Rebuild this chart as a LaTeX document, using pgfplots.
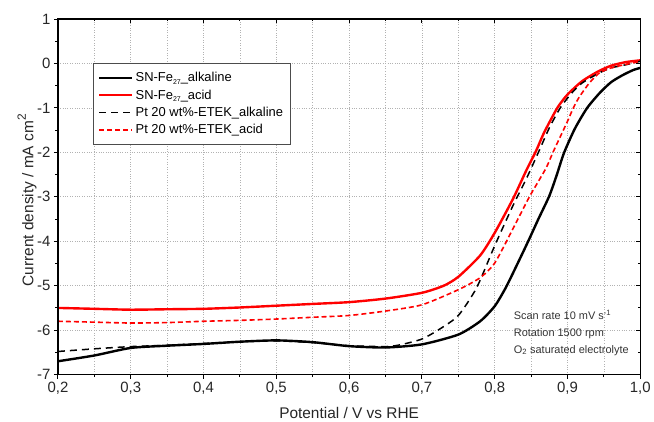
\documentclass[border=0pt]{standalone}
\usepackage{pgfplots}
\pgfplotsset{compat=1.18}
\usepackage{fontspec}
\setmainfont{Liberation Sans}
\newcommand\sub[1]{\raisebox{-0.4ex}{\fontsize{7}{7}\selectfont #1}}

\begin{document}
\begin{tikzpicture}
\pgfplotsset{
  lsv/.style={scale only axis, width=583bp, height=356bp, at={(0,0)}, anchor=south west,
    xmin=0.2, xmax=1.0, ymin=-7, ymax=1,
    axis line style={line width=1.2bp},
    xtick={0.2,0.3,0.4,0.5,0.6,0.7,0.8,0.9,1.0},
    minor xtick={0.25,0.35,0.45,0.55,0.65,0.75,0.85,0.95},
    ytick={-7,-6,-5,-4,-3,-2,-1,0,1},
    minor ytick={-6.5,-5.5,-4.5,-3.5,-2.5,-1.5,-0.5,0.5},
    major tick length=4bp, minor tick length=2.5bp,
    tick style={black, line width=0.9bp},
  }
}
\begin{axis}[lsv,
  xtick pos=bottom, ytick pos=left, tick align=outside,
  xmajorgrids, xminorgrids, ymajorgrids,
  grid style={gray!60, dotted, line width=0.6bp},
  minor grid style={gray!60, dotted, line width=0.6bp},
  /pgf/number format/assume math mode=true,
  ticklabel style={font=\fontsize{15}{17}\selectfont, text=black!85},
  xticklabel style={/pgf/number format/.cd, fixed, fixed zerofill, precision=1, use comma},
  yticklabel style={/pgf/number format/.cd, fixed, precision=0},
  xlabel={Potential / V vs RHE},
  ylabel={Current density / mA cm\raisebox{0.9ex}{\fontsize{12}{12}\selectfont 2}},
  label style={font=\fontsize{15.5}{17}\selectfont, text=black!85},
  xlabel style={at={(axis description cs:0.5,-0.108)}, anchor=center},
  ylabel style={at={(axis description cs:-0.053,0.49)}, anchor=center},
  legend cell align=left,
  legend style={at={(0.06,0.876)}, anchor=north west, draw=black!70, line width=0.8bp,
    font=\fontsize{13}{15}\selectfont, inner xsep=5bp, inner ysep=7bp, row sep=2.5bp},
  legend image code/.code={\draw[#1] (0bp,0bp) -- (33bp,0bp);},
  every axis plot/.append style={smooth, tension=0.4},
]

\addplot[black, line width=2.4bp] coordinates {
  (0.20,-6.70) (0.25,-6.57) (0.30,-6.40) (0.35,-6.35) (0.40,-6.31) (0.45,-6.26)
  (0.50,-6.23) (0.55,-6.27) (0.60,-6.36) (0.65,-6.39) (0.70,-6.32) (0.75,-6.10)
  (0.78,-5.80) (0.80,-5.46) (0.815,-5.05) (0.83,-4.55) (0.846,-4.00) (0.86,-3.50)
  (0.875,-2.98) (0.885,-2.52) (0.895,-2.02) (0.91,-1.47) (0.927,-1.00) (0.945,-0.65)
  (0.96,-0.42) (0.975,-0.27) (0.99,-0.15) (1.00,-0.10)
};
\addlegendentry{SN-Fe\sub{27}\_alkaline}

\addplot[red, line width=2.4bp] coordinates {
  (0.20,-5.50) (0.25,-5.52) (0.30,-5.54) (0.35,-5.53) (0.40,-5.52) (0.45,-5.49)
  (0.50,-5.45) (0.55,-5.41) (0.60,-5.37) (0.65,-5.29) (0.70,-5.16) (0.73,-5.00)
  (0.75,-4.80) (0.78,-4.32) (0.80,-3.81) (0.825,-3.05) (0.843,-2.42) (0.857,-1.96)
  (0.868,-1.55) (0.886,-1.00) (0.90,-0.70) (0.92,-0.40) (0.942,-0.18) (0.96,-0.05)
  (0.98,0.03) (1.00,0.07)
};
\addlegendentry{SN-Fe\sub{27}\_acid}

\addplot[black, line width=1.5bp, dash pattern=on 7bp off 5bp] coordinates {
  (0.20,-6.48) (0.25,-6.42) (0.30,-6.37) (0.35,-6.34) (0.40,-6.30) (0.45,-6.26)
  (0.50,-6.24) (0.55,-6.28) (0.60,-6.35) (0.65,-6.37) (0.67,-6.33) (0.70,-6.20)
  (0.725,-5.97) (0.75,-5.67) (0.775,-5.05) (0.80,-4.10) (0.825,-3.20) (0.843,-2.61)
  (0.86,-2.00) (0.875,-1.45) (0.89,-1.00) (0.905,-0.68) (0.92,-0.44) (0.944,-0.21)
  (0.96,-0.10) (0.98,-0.03) (1.00,0.05)
};
\addlegendentry{Pt 20 wt\%-ETEK\_alkaline}

\addplot[red, line width=1.6bp, dash pattern=on 5bp off 3bp] coordinates {
  (0.20,-5.80) (0.25,-5.82) (0.30,-5.84) (0.35,-5.83) (0.40,-5.80) (0.45,-5.78)
  (0.50,-5.75) (0.55,-5.71) (0.60,-5.67) (0.65,-5.57) (0.70,-5.43) (0.75,-5.09)
  (0.78,-4.82) (0.80,-4.49) (0.825,-3.72) (0.848,-2.99) (0.87,-2.37) (0.88,-2.00)
  (0.89,-1.65) (0.90,-1.30) (0.908,-1.00) (0.916,-0.76) (0.93,-0.44) (0.944,-0.21)
  (0.96,-0.10) (0.975,-0.04) (1.00,0.05)
};
\addlegendentry{Pt 20 wt\%-ETEK\_acid}

\node[anchor=north west, align=left, inner sep=0pt, text=black!80,
  font=\fontsize{11}{17.2}\selectfont] at (axis cs:0.826,-5.54)
  {Scan rate 10 mV s\textsuperscript{-1}\\Rotation 1500 rpm\\O\textsubscript{2} saturated electrolyte};
\end{axis}

\begin{axis}[lsv, xtick pos=top, ytick pos=right, tick align=inside,
  xticklabel=\empty, yticklabel=\empty]
\end{axis}

\path (-58bp,-47bp) rectangle (596bp,375bp);
\end{tikzpicture}
\end{document}
